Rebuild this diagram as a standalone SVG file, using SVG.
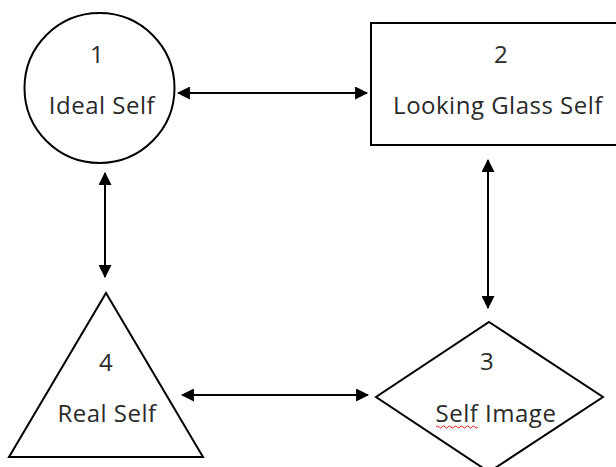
<svg xmlns="http://www.w3.org/2000/svg" width="616" height="467" viewBox="0 0 616 467">
<style>
.shape{fill:#fff;stroke:#000;stroke-width:2}
.lbl{font-family:"Open Sans","Noto Sans","Liberation Sans",sans-serif;font-size:24px;letter-spacing:0.5px;fill:#2a2a2a;text-anchor:middle}
.conn{stroke:#000;stroke-width:2;fill:none;marker-start:url(#ah);marker-end:url(#ah)}
</style>
<defs>
<marker id="ah" viewBox="0 0 12 12" refX="11" refY="6" markerWidth="13" markerHeight="13" markerUnits="userSpaceOnUse" orient="auto-start-reverse">
<path d="M0,0 L12,6 L0,12 Z" fill="#000"/>
</marker>
</defs>
<rect width="616" height="467" fill="#fff"/>
<g id="node1">
<circle class="shape" cx="99.5" cy="88" r="75"/>
<text class="lbl" x="97" y="63">1</text>
<text class="lbl" x="102" y="114">Ideal Self</text>
</g>
<g id="node2">
<rect class="shape" x="371" y="23" width="250" height="122"/>
<text class="lbl" x="501" y="63">2</text>
<text class="lbl" x="498" y="114">Looking Glass Self</text>
</g>
<g id="node3">
<polygon class="shape" points="489,322 603,397 489,472 376,397"/>
<text class="lbl" x="487" y="370">3</text>
<text class="lbl" x="496" y="422">Self Image</text>
<path d="M436,427 q1.5,-2 3,0 t3,0 t3,0 t3,0 t3,0 t3,0 t3,0 t3,0 t3,0 t3,0 t3,0 t3,0 t3,0 t3,0" fill="none" stroke="#d22" stroke-width="1"/>
</g>
<g id="node4">
<polygon class="shape" points="106,293 203,457 9,457"/>
<text class="lbl" x="106" y="371">4</text>
<text class="lbl" x="107" y="422">Real Self</text>
</g>
<g id="connectors">
<line class="conn" x1="178" y1="93" x2="367" y2="93"/>
<line class="conn" x1="488" y1="160" x2="488" y2="308"/>
<line class="conn" x1="105" y1="173" x2="105" y2="277"/>
<line class="conn" x1="182" y1="395" x2="368" y2="395"/>
</g>
</svg>
